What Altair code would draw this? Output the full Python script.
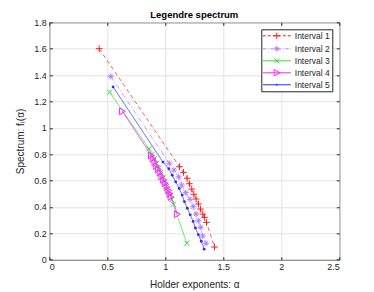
import altair as alt
import pandas as pd

names = ["Interval 1", "Interval 2", "Interval 3", "Interval 4", "Interval 5"]

alpha1 = [0.43, 1.122, 1.157, 1.188, 1.208, 1.228, 1.246, 1.266, 1.286, 1.303, 1.323, 1.338, 1.355, 1.424]
f1 = [1.60, 0.705, 0.662, 0.617, 0.576, 0.536, 0.496, 0.460, 0.422, 0.384, 0.346, 0.321, 0.283, 0.096]

alpha2 = [0.53, 1.035, 1.075, 1.115, 1.141, 1.176, 1.213, 1.241, 1.265, 1.285, 1.305, 1.322, 1.351]
f2 = [1.39, 0.731, 0.680, 0.629, 0.566, 0.508, 0.458, 0.402, 0.346, 0.296, 0.245, 0.180, 0.124]

alpha3 = [0.52, 0.86, 0.885, 0.905, 0.925, 0.945, 0.96, 0.98, 0.995, 1.01, 1.025, 1.04, 1.055, 1.07, 1.185]
f3 = [1.27, 0.84, 0.80, 0.765, 0.73, 0.695, 0.66, 0.625, 0.59, 0.555, 0.52, 0.49, 0.455, 0.42, 0.125]

alpha4 = [0.63, 0.88, 0.895, 0.91, 0.925, 0.94, 0.955, 0.97, 0.985, 1.00, 1.015, 1.03, 1.04, 1.05, 1.105]
f4 = [1.125, 0.79, 0.765, 0.74, 0.71, 0.685, 0.66, 0.63, 0.605, 0.58, 0.55, 0.525, 0.50, 0.475, 0.345]

alpha5 = [0.55, 0.98, 1.03, 1.06, 1.09, 1.12, 1.145, 1.165, 1.19, 1.215, 1.24, 1.26, 1.285, 1.31, 1.335]
f5 = [1.31, 0.74, 0.69, 0.64, 0.59, 0.54, 0.49, 0.44, 0.39, 0.34, 0.29, 0.24, 0.19, 0.14, 0.08]

x_ticks = [0, 0.5, 1, 1.5, 2, 2.5]
y_ticks = [0, 0.2, 0.4, 0.6, 0.8, 1, 1.2, 1.4, 1.6, 1.8]

# ---- styles ----
FONT = "Liberation Sans"
TXT = "#262626"
line_colors = ["#ff5a5a", "#c9a0ff", "#55e655", "#ff44ff", "#5a5aff"]
mark_colors = ["#ff1a1a", "#b77cff", "#2ee02e", "#ff22ff", "#2a2aff"]
dashes = [[4, 3], [5, 2, 1, 2], [1, 0], [1, 0], [1, 0]]

PLUS = "M-1,0H1M0,-1V1"
XMARK = "M-1,-1L1,1M-1,1L1,-1"
AST = "M-1,0H1M0,-1V1M-0.7,-0.7L0.7,0.7M-0.7,0.7L0.7,-0.7"
point_shapes = [PLUS, AST, XMARK, "triangle-right", "circle"]
point_sizes = [44, 36, 26, 45, 8]
point_filled = [False, False, False, False, True]

LEG_SIZE = 64          # legend symbol size -> sqrt(64)/2 = 4 px per path unit
U = 4.0


def legend_line(pattern, half_px=14.0):
    half = half_px / U
    if pattern is None:
        return "M%.3f,0H%.3f" % (-half, half)
    segs = []
    x = -half
    i = 0
    while x < half:
        ln = pattern[i % len(pattern)] / U
        if i % 2 == 0:
            segs.append("M%.3f,0H%.3f" % (x, min(half, x + ln)))
        x += ln
        i += 1
    return "".join(segs)


def sc(path_units, px):
    return path_units.format(a=px / U, b=0.7 * px / U)


leg_marks = [
    sc("M-{a},0H{a}M0,-{a}V{a}", 3.2),
    sc("M-{a},0H{a}M0,-{a}V{a}M-{b},-{b}L{b},{b}M-{b},{b}L{b},-{b}", 2.8),
    sc("M-{a},-{a}L{a},{a}M-{a},{a}L{a},-{a}", 2.3),
    "M%.3f,%.3fL%.3f,0L%.3f,%.3fZ" % (-2.6 / U, -3.2 / U, 3.4 / U, -2.6 / U, 3.2 / U),
    sc("M-{a},0A{a},{a},0,1,0,{a},0A{a},{a},0,1,0,-{a},0", 0.6),
]
leg_lines = [legend_line([3, 2]), legend_line([3.5, 1.5, 1, 1.5]), legend_line(None),
             legend_line(None), legend_line(None)]
legend_paths = [l + m for l, m in zip(leg_lines, leg_marks)]

xs = [alpha1, alpha2, alpha3, alpha4, alpha5]
ys = [f1, f2, f3, f4, f5]

XS = alt.Scale(domain=[0, 2.5], nice=False, zero=False)
YS = alt.Scale(domain=[0, 1.8], nice=False, zero=False)
X = alt.X("alpha:Q", scale=XS,
          axis=alt.Axis(values=x_ticks, format="~g", title="Holder exponents: α", orient="bottom",
                        grid=True, tickSize=0, labelPadding=3, titlePadding=8))
Y = alt.Y("f:Q", scale=YS,
          axis=alt.Axis(values=y_ticks, format="~g", title="Spectrum: fₗ(α)", orient="left",
                        grid=True, tickSize=0, labelPadding=3, titlePadding=8))

layers = []
for k in range(5):
    d = pd.DataFrame({"alpha": xs[k], "f": ys[k], "i": list(range(len(xs[k])))})
    base = alt.Chart(d).encode(x=X, y=Y, order="i:Q")
    layers.append(base.mark_line(color=line_colors[k], strokeWidth=1, strokeDash=dashes[k]))
    layers.append(base.mark_point(shape=point_shapes[k], size=point_sizes[k],
                                  color=mark_colors[k], filled=point_filled[k],
                                  strokeWidth=1, opacity=1))

leg = alt.Legend(title=None, orient="top-right", offset=7, padding=2,
                 strokeColor="#262626", fillColor="white", labelFont=FONT,
                 labelFontSize=8.5, labelColor=TXT, symbolSize=LEG_SIZE,
                 symbolStrokeWidth=1, symbolOffset=9, labelOffset=13.5,
                 rowPadding=2, symbolOpacity=1, cornerRadius=0)
legd = pd.DataFrame({"series": names})
legend_layer = alt.Chart(legd).mark_point(filled=False, opacity=0).encode(
    color=alt.Color("series:N", scale=alt.Scale(domain=names, range=mark_colors), legend=leg),
    shape=alt.Shape("series:N", scale=alt.Scale(domain=names, range=legend_paths), legend=leg),
)
layers.append(legend_layer)
main = alt.layer(*layers)


def tick_layer(xorient, yorient):
    d = pd.DataFrame({"alpha": [0.0], "f": [0.0]})
    return alt.Chart(d).mark_point(opacity=0).encode(
        x=alt.X("alpha:Q", scale=XS, axis=alt.Axis(values=x_ticks, orient=xorient, labels=False,
                                                   grid=False, domain=False, title=None, tickSize=3,
                                                   offset=-3, tickColor="#262626")),
        y=alt.Y("f:Q", scale=YS, axis=alt.Axis(values=y_ticks, orient=yorient, labels=False,
                                               grid=False, domain=False, title=None, tickSize=3,
                                               offset=-3, tickColor="#262626")),
    )


chart = alt.layer(main, tick_layer("bottom", "left"), tick_layer("top", "right")).resolve_axis(
    x="independent", y="independent"
).properties(
    width=290, height=237.4,
    title=alt.TitleParams("Legendre spectrum", fontSize=9.5, fontWeight="bold",
                          font=FONT, color="#000000", offset=-1.5),
    autosize=alt.AutoSizeParams(type="none"),
    padding={"left": 41.3, "top": 14.3, "right": 25, "bottom": 30},
).configure_view(stroke="#333333", strokeWidth=1).configure_axis(
    domain=False, gridColor="#e3e3e3", gridWidth=1, labelFont=FONT, labelFontSize=9,
    labelColor=TXT, titleFont=FONT, titleFontSize=10, titleColor=TXT, titleFontWeight="normal"
)

chart.save("out.html", embed_options={"renderer": "svg", "actions": False})
